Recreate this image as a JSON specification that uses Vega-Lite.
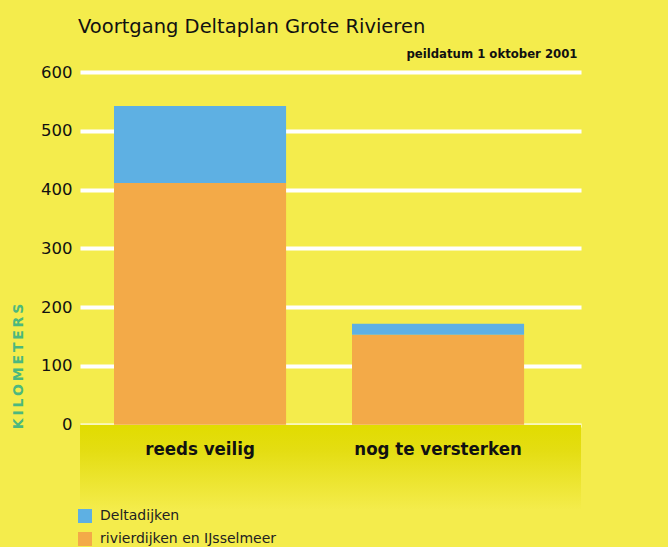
{
  "$schema": "https://vega.github.io/schema/vega-lite/v6.json",
  "autosize": "none",
  "width": 501,
  "height": 438,
  "padding": {"left": 80, "top": 72, "right": 87, "bottom": 37},
  "background": "#f4ec4c",
  "config": {
    "view": {"stroke": null},
    "font": "DejaVu Sans"
  },
  "title": {
    "text": "Voortgang Deltaplan Grote Rivieren",
    "anchor": "start",
    "frame": "group",
    "fontSize": 19.5,
    "fontWeight": "normal",
    "color": "#111111",
    "font": "DejaVu Sans",
    "offset": 10,
    "dx": -2
  },
  "datasets": {
    "bars": [
      {"categorie": "reeds veilig", "serie": "rivierdijken en IJsselmeer", "km": 411},
      {"categorie": "reeds veilig", "serie": "Deltadijken", "km": 131},
      {"categorie": "nog te versterken", "serie": "rivierdijken en IJsselmeer", "km": 153},
      {"categorie": "nog te versterken", "serie": "Deltadijken", "km": 19}
    ],
    "cats": [
      {"categorie": "reeds veilig"},
      {"categorie": "nog te versterken"}
    ],
    "band": [{"top": 0, "bottom": -145}]
  },
  "layer": [
    {
      "data": {"name": "band"},
      "mark": {
        "type": "rect",
        "fill": {
          "gradient": "linear",
          "x1": 0, "y1": 0, "x2": 0, "y2": 1,
          "stops": [
            {"offset": 0, "color": "#e1dc00"},
            {"offset": 0.3, "color": "#e4dd12"},
            {"offset": 1, "color": "#f4ec4c"}
          ]
        }
      },
      "encoding": {
        "y": {"field": "top", "type": "quantitative"},
        "y2": {"field": "bottom"}
      }
    },
    {
      "data": {"name": "bars"},
      "mark": {"type": "bar"},
      "encoding": {
        "x": {
          "field": "categorie",
          "type": "nominal",
          "scale": {"domain": ["reeds veilig", "nog te versterken"], "paddingInner": 0.277, "paddingOuter": 0.191, "align": 0.374},
          "axis": {
            "orient": "top",
            "labels": false,
            "ticks": false,
            "domain": false,
            "title": "peildatum 1 oktober 2001",
            "titleAnchor": "end",
            "titleFont": "DejaVu Sans Condensed",
            "titleFontSize": 13,
            "titleFontWeight": "bold",
            "titleColor": "#111111",
            "titlePadding": 12,
            "titleX": 497,
            "titleAlign": "right"
          }
        },
        "y": {
          "field": "km",
          "type": "quantitative",
          "stack": "zero",
          "scale": {"domain": [-145, 600], "nice": false, "zero": false},
          "axis": {
            "values": [0, 100, 200, 300, 400, 500, 600],
            "grid": true,
            "gridColor": "#ffffff",
            "gridWidth": 4,
            "gridOpacity": 1,
            "domain": false,
            "ticks": false,
            "labelFontSize": 16.5,
            "labelColor": "#111111",
            "labelPadding": 8,
            "title": "K\u2009I\u2009L\u2009O\u2009M\u2009E\u2009T\u2009E\u2009R\u2009S",
            "titleColor": "#4cb87e",
            "titleFontSize": 14,
            "titleFontWeight": "bold",
            "titleAngle": -90,
            "titleX": -62,
            "titleY": 294,
            "titleAlign": "center",
            "titleBaseline": "middle"
          }
        },
        "color": {
          "field": "serie",
          "type": "nominal",
          "scale": {"domain": ["Deltadijken", "rivierdijken en IJsselmeer"], "range": ["#5eb0e3", "#f3aa48"]},
          "legend": {
            "title": null,
            "orient": "none",
            "legendX": -2,
            "legendY": 437,
            "symbolType": "square",
            "symbolSize": 196,
            "symbolStrokeWidth": 0,
            "labelFont": "DejaVu Sans",
            "labelFontSize": 14,
            "labelColor": "#222222",
            "labelLimit": 400,
            "rowPadding": 9,
            "labelOffset": 8
          }
        },
        "order": {"field": "serie", "sort": "descending"}
      }
    },
    {
      "data": {"name": "cats"},
      "mark": {"type": "text", "font": "DejaVu Sans Condensed", "fontSize": 18.5, "fontWeight": "bold", "color": "#111111", "baseline": "middle", "align": "center"},
      "encoding": {
        "x": {"field": "categorie", "type": "nominal"},
        "y": {"datum": -42},
        "text": {"field": "categorie"}
      }
    }
  ]
}
